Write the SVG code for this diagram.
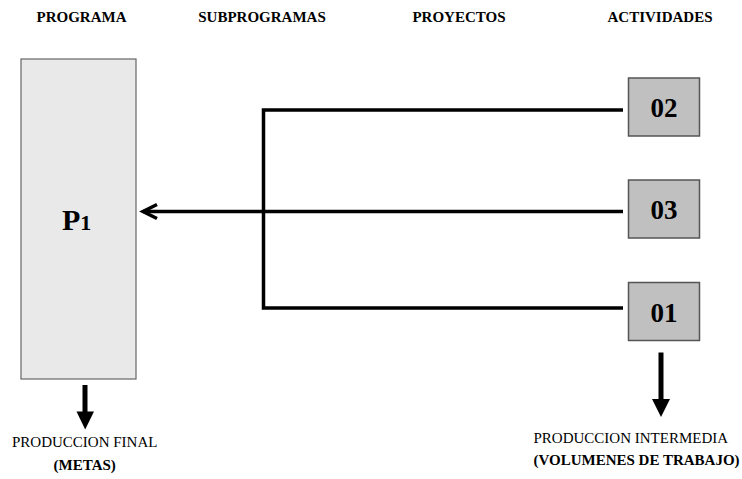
<svg xmlns="http://www.w3.org/2000/svg" width="742" height="479" viewBox="0 0 742 479">
<style>
.hdr{font-family:"Liberation Serif","Times New Roman",serif;font-weight:bold;font-size:15px;fill:#000;text-anchor:middle}
.lbl{font-family:"Liberation Serif","Times New Roman",serif;font-size:15px;fill:#000}
.b{font-weight:bold}
.act rect{fill:#c0c0c0;stroke:#555;stroke-width:1.5}
.act text{font-family:"Liberation Serif","Times New Roman",serif;font-weight:bold;font-size:27px;fill:#000;text-anchor:middle}
.conn{fill:none;stroke:#000;stroke-width:3.5}
</style>
<rect width="742" height="479" fill="#fff"/>
<g id="headers">
<text class="hdr" x="81.5" y="22">PROGRAMA</text>
<text class="hdr" x="262" y="22">SUBPROGRAMAS</text>
<text class="hdr" x="459" y="22">PROYECTOS</text>
<text class="hdr" x="660" y="22">ACTIVIDADES</text>
</g>
<g id="programa">
<rect x="21" y="59" width="115" height="320" fill="#e9e9e9" stroke="#666" stroke-width="1.2"/>
<text x="62" y="229.5" font-family="Liberation Serif, Times New Roman, serif" font-weight="bold" font-size="30" fill="#000">P<tspan font-size="22">1</tspan></text>
</g>
<g id="act02" class="act">
<rect x="628.5" y="78" width="71" height="58"/>
<text x="664" y="116.5">02</text>
</g>
<g id="act03" class="act">
<rect x="628.5" y="180" width="71" height="58"/>
<text x="664" y="219">03</text>
</g>
<g id="act01" class="act">
<rect x="628.5" y="282.5" width="71" height="58"/>
<text x="664" y="321.5">01</text>
</g>
<g id="connectors">
<path class="conn" d="M623 110 H263.5 V308 H623"/>
<path class="conn" d="M623 211.5 H143"/>
<polyline class="conn" points="157,204.5 143,211.5 157,218.5" stroke-linejoin="miter"/>
<line x1="85" y1="385" x2="85" y2="413" stroke="#000" stroke-width="5"/>
<polygon points="76.5,411.5 94,411.5 85.2,429.5" fill="#000"/>
<line x1="661" y1="352.5" x2="661" y2="400" stroke="#000" stroke-width="5"/>
<polygon points="652,399 670,399 661,417" fill="#000"/>
</g>
<g id="out-final">
<text class="lbl" x="84.7" y="447" text-anchor="middle">PRODUCCION FINAL</text>
<text class="lbl b" x="84.7" y="470" text-anchor="middle">(METAS)</text>
</g>
<g id="out-intermedia">
<text class="lbl" x="533.5" y="443">PRODUCCION INTERMEDIA</text>
<text class="lbl b" x="533.5" y="465">(VOLUMENES DE TRABAJO)</text>
</g>
</svg>
